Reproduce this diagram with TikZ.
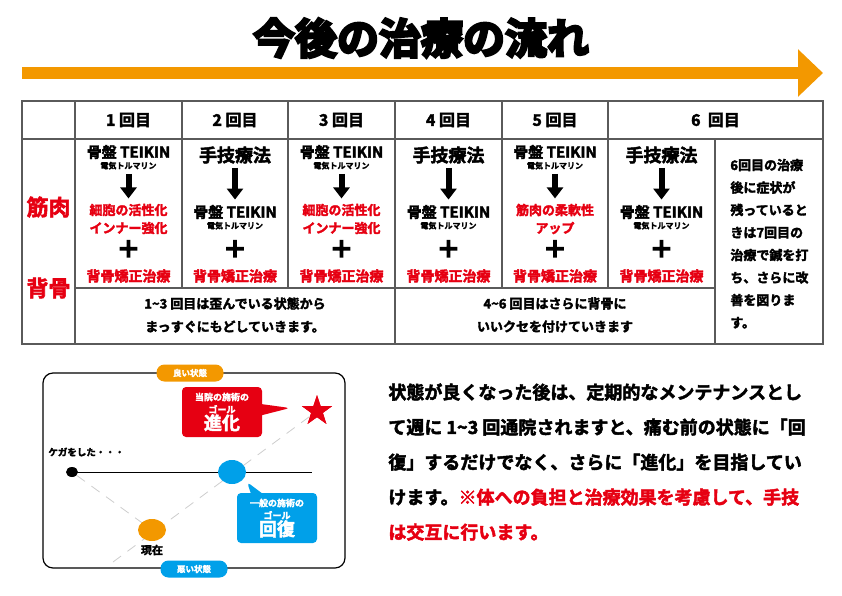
\documentclass[tikz,border=0pt]{standalone}
\usepackage{fontspec}
\setmainfont{Noto Sans CJK JP}[BoldFont={* Bold},BoldFeatures={FakeBold=2.5}]
\newfontfamily\heavyfont{Noto Sans CJK JP}[UprightFont={* Bold},FakeBold=6]
\usetikzlibrary{positioning,arrows.meta,shapes.geometric,shapes.callouts}
\definecolor{flowOrange}{RGB}{243,152,0}
\definecolor{kaiRed}{RGB}{230,0,18}
\definecolor{kaiBlue}{RGB}{0,160,233}
\definecolor{ruleGray}{RGB}{90,90,90}
\definecolor{guideGray}{RGB}{205,205,205}
\newcommand{\fsz}[1]{\fontsize{#1}{#1}\selectfont}

\begin{document}
\begin{tikzpicture}[x=1pt,y=-1pt,thick,
    every node/.style={font=\bfseries,inner sep=0pt},
    head node/.style={font=\bfseries\fsz{16}},
    teikin node/.style={font=\bfseries\fsz{15}},
    sub node/.style={font=\bfseries\fsz{8}},
    shugi node/.style={font=\bfseries\fsz{18}},
    effect node/.style={align=center,text=kaiRed,font=\bfseries\fontsize{13}{18}\selectfont},
    plus node/.style={font=\heavyfont\fsz{23}},
    sekotsu node/.style={text=kaiRed,font=\bfseries\fsz{14}},
    note node/.style={align=center,font=\bfseries\fontsize{13}{23}\selectfont},
    down arrow/.style={-{Triangle[width=16pt,length=11pt]},line width=6pt,shorten <=4pt,shorten >=5pt},
    pill/.style={text=white,rounded corners=8pt,minimum width=67pt,minimum height=17pt,font=\bfseries\fsz{8.5}},
    goal call/.style={rectangle callout,rounded corners=4pt,text=white,align=center,minimum width=80pt,minimum height=50pt,callout pointer width=11pt,font=\bfseries\fontsize{9}{12.5}\selectfont},
    guide line/.style={guideGray,line width=0.8pt,dash pattern=on 10pt off 8pt}]
  \useasboundingbox (0,0) rectangle (842,595);

  % title and flow arrow
  \node[font=\heavyfont\fsz{42}] (title) at (421,38) {今後の治療の流れ};
  \coordinate (flowS) at (22,73);
  \coordinate (flowE) at (823,73);
  \draw[flowOrange,line width=12pt,-{Triangle[width=46pt,length=25pt]}] (flowS) -- (flowE);

  % table rules
  \draw[ruleGray,line width=1.3pt]
    (22,101) rectangle (823,344)
    (22,139) -- (823,139)
    (75,288) -- (715,288)
    (75,101) -- (75,344)
    (182,101) -- (182,288)
    (288,101) -- (288,288)
    (395,101) -- (395,344)
    (502,101) -- (502,288)
    (608,101) -- (608,288)
    (715,139) -- (715,344);

  % header
  \node[head node] (h1) at (128.5,120) {1 回目};
  \node[head node] (h2) at (235,120) {2 回目};
  \node[head node] (h3) at (341.5,120) {3 回目};
  \node[head node] (h4) at (448.5,120) {4 回目};
  \node[head node] (h5) at (555,120) {5 回目};
  \node[head node] (h6) at (715.5,120) {6 \ 回目};

  \node[text=kaiRed,font=\bfseries\fsz{22}] (kin) at (48.5,207) {筋肉};
  \node[text=kaiRed,font=\bfseries\fsz{22}] (sebo) at (48.5,288) {背骨};

  % 1st visit
  \node[teikin node] (t1) at (128.5,152) {骨盤 TEIKIN};
  \node[sub node,below=2pt of t1] (t1s) {電気トルマリン};
  \node[effect node] (e1) at (128.5,219) {細胞の活性化\\インナー強化};
  \node[plus node] (p1) at (128.5,249) {＋};
  \node[sekotsu node] (s1) at (128.5,276) {背骨矯正治療};
  \draw[down arrow] (t1s) -- (e1);

  % 2nd visit
  \node[shugi node] (m2) at (235,155) {手技療法};
  \node[teikin node] (t2) at (235,212) {骨盤 TEIKIN};
  \node[sub node,below=2pt of t2] (t2s) {電気トルマリン};
  \node[plus node] (p2) at (235,249) {＋};
  \node[sekotsu node] (s2) at (235,276) {背骨矯正治療};
  \draw[down arrow] (m2) -- (t2);

  % 3rd visit
  \node[teikin node] (t3) at (341.5,152) {骨盤 TEIKIN};
  \node[sub node,below=2pt of t3] (t3s) {電気トルマリン};
  \node[effect node] (e3) at (341.5,219) {細胞の活性化\\インナー強化};
  \node[plus node] (p3) at (341.5,249) {＋};
  \node[sekotsu node] (s3) at (341.5,276) {背骨矯正治療};
  \draw[down arrow] (t3s) -- (e3);

  % 4th visit
  \node[shugi node] (m4) at (448.5,155) {手技療法};
  \node[teikin node] (t4) at (448.5,212) {骨盤 TEIKIN};
  \node[sub node,below=2pt of t4] (t4s) {電気トルマリン};
  \node[plus node] (p4) at (448.5,249) {＋};
  \node[sekotsu node] (s4) at (448.5,276) {背骨矯正治療};
  \draw[down arrow] (m4) -- (t4);

  % 5th visit
  \node[teikin node] (t5) at (555,152) {骨盤 TEIKIN};
  \node[sub node,below=2pt of t5] (t5s) {電気トルマリン};
  \node[effect node] (e5) at (555,219) {筋肉の柔軟性\\アップ};
  \node[plus node] (p5) at (555,249) {＋};
  \node[sekotsu node] (s5) at (555,276) {背骨矯正治療};
  \draw[down arrow] (t5s) -- (e5);

  % 6th visit
  \node[shugi node] (m6) at (661.5,155) {手技療法};
  \node[teikin node] (t6) at (661.5,212) {骨盤 TEIKIN};
  \node[sub node,below=2pt of t6] (t6s) {電気トルマリン};
  \node[plus node] (p6) at (661.5,249) {＋};
  \node[sekotsu node] (s6) at (661.5,276) {背骨矯正治療};
  \draw[down arrow] (m6) -- (t6);

  \node[note node] (n13) at (235,315) {1\textasciitilde 3 回目は歪んでいる状態から\\まっすぐにもどしていきます。};
  \node[note node] (n46) at (555,315) {4\textasciitilde 6 回目はさらに背骨に\\いいクセを付けていきます};
  \node[anchor=north west,align=left,font=\bfseries\fontsize{13}{22.5}\selectfont] (n7) at (730,158.5)
    {6回目の治療\\後に症状が\\残っていると\\きは7回目の\\治療で鍼を打\\ち、さらに改\\善を図りま\\す。};

  % state chart
  \draw[line width=1.2pt,rounded corners=10pt] (43,373) rectangle (345,568);
  \node[pill,fill=flowOrange] (good) at (190,373) {良い状態};
  \node[pill,fill=kaiBlue] (bad) at (194,569) {悪い状態};

  \node[ellipse,fill=black,minimum width=12pt,minimum height=10pt] (injury) at (72,472) {};
  \node[star,star points=5,star point ratio=2.6,fill=kaiRed,minimum size=32pt] (goal) at (317,411) {};
  \coordinate (lowEnd) at (113,562);
  \coordinate (lineEnd) at (312,472);
  \node[ellipse,minimum width=28pt,minimum height=22pt] (now) at (152,530) {};
  \draw[guide line] (injury) -- (now.center);
  \draw[guide line] (lowEnd) -- (goal.center);
  \draw[line width=1pt] (injury.center) -- (lineEnd);
  \node[ellipse,fill=flowOrange,minimum width=28pt,minimum height=22pt] at (now) {};
  \node[ellipse,fill=kaiBlue,minimum width=28pt,minimum height=24pt] (recover) at (232,472) {};
  \node[star,star points=5,star point ratio=2.6,fill=kaiRed,minimum size=32pt] at (goal) {};

  \node[anchor=west,font=\bfseries\fsz{9.5}] (injurylabel) at (48,452) {ケガをした・・・};
  \node[below=3pt of now,font=\bfseries\fsz{11}] (nowlabel) {現在};

  \coordinate (redTip) at (290,408);
  \coordinate (blueTip) at (247,482);
  \node[goal call,fill=kaiRed,callout absolute pointer={(redTip)}] (evolve) at (222,412)
    {当院の施術の\\ゴール\\{\fsz{18}進化}};
  \node[goal call,fill=kaiBlue,callout absolute pointer={(blueTip)}] (restore) at (277,518)
    {一般の施術の\\ゴール\\{\fsz{18}回復}};

  % message
  \node[anchor=north west,align=left,font=\bfseries\fontsize{18}{35}\selectfont] (message) at (388,383)
    {状態が良くなった後は、定期的なメンテナンスとし\\
     て週に 1\textasciitilde 3 回通院されますと、痛む前の状態に「回\\
     復」するだけでなく、さらに「進化」を目指してい\\
     けます。\textcolor{kaiRed}{※体への負担と治療効果を考慮して、手技}\\
     \textcolor{kaiRed}{は交互に行います。}};
\end{tikzpicture}
\end{document}
